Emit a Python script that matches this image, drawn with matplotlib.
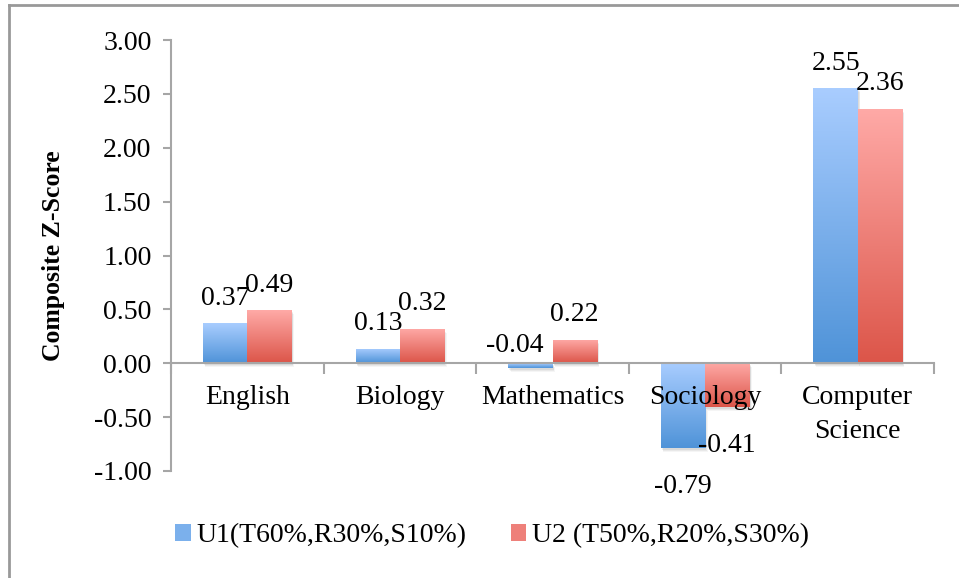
import numpy as np
import matplotlib
matplotlib.use("Agg")
import matplotlib.pyplot as plt
from matplotlib.patches import Rectangle
from matplotlib.colors import LinearSegmentedColormap
import matplotlib.transforms as mtransforms
from matplotlib.lines import Line2D

categories = ["English", "Biology", "Mathematics", "Sociology", "Computer\nScience"]
u1_values = [0.37, 0.13, -0.04, -0.79, 2.55]
u2_values = [0.49, 0.32, 0.22, -0.41, 2.36]
series_names = ["U1(T60%,R30%,S10%)", "U2 (T50%,R20%,S30%)"]
y_ticks = [-1.0, -0.5, 0.0, 0.5, 1.0, 1.5, 2.0, 2.5, 3.0]

plt.rcParams['font.family'] = ['Liberation Serif', 'DejaVu Serif']
FS = 20

blue_top, blue_bot = "#a9cdff", "#4f93d8"
red_top, red_bot = "#ffaaa7", "#dc5549"

W, H = 959, 578
fig = plt.figure(figsize=(W / 100, H / 100), dpi=100)
ax = fig.add_axes([171 / W, 1 - 471 / H, (934 - 171) / W, (471 - 40) / H])
ax.set_xlim(-0.5, 4.5)
ax.set_ylim(-1.0, 3.0)

bar_w = 0.29
x = np.arange(len(categories))


def grad_bar(xc, val, top, bot, z):
    x0, x1 = xc - bar_w / 2, xc + bar_w / 2
    y0, y1 = min(0, val), max(0, val)
    # soft drop shadow
    for k, a in [(4, 0.04), (3, 0.05), (2, 0.06)]:
        tr = mtransforms.offset_copy(ax.transData, fig=fig, x=k * 0.72 * 0.6, y=-k * 0.72, units='points')
        ax.add_patch(Rectangle((x0, y0), x1 - x0, y1 - y0, transform=tr,
                               facecolor='black', alpha=a, edgecolor='none', zorder=z - 0.5))
    cmap = LinearSegmentedColormap.from_list('g', [bot, top])
    grad = np.linspace(0, 1, 256).reshape(-1, 1)
    im = ax.imshow(grad, cmap=cmap, extent=(x0, x1, y0, y1), origin='lower',
                   aspect='auto', zorder=z, interpolation='bilinear')
    rect = Rectangle((x0, y0), x1 - x0, y1 - y0, transform=ax.transData,
                     facecolor='none', edgecolor='none')
    ax.add_patch(rect)
    im.set_clip_path(rect)


def label(xc, val):
    txt = f"{val:.2f}"
    if val >= 0:
        ax.annotate(txt, (xc, val), xytext=(0, 13.5), textcoords='offset points',
                    ha='center', va='baseline', fontsize=FS, zorder=10)
    elif abs(val) < 0.1:
        # tiny negative bar: label sits above the axis, nudged left
        ax.annotate(txt, (xc, 0), xytext=(-11, 8), textcoords='offset points',
                    ha='center', va='baseline', fontsize=FS, zorder=10)
    else:
        ax.annotate(txt, (xc, val), xytext=(0, -18.5), textcoords='offset points',
                    ha='center', va='top', fontsize=FS, zorder=10)


for i in range(len(categories)):
    grad_bar(x[i] - bar_w / 2, u1_values[i], blue_top, blue_bot, 1)
    grad_bar(x[i] + bar_w / 2, u2_values[i], red_top, red_bot, 1)
for i in range(len(categories)):
    label(x[i] - bar_w / 2, u1_values[i])
    label(x[i] + bar_w / 2, u2_values[i])

axis_grey = "#a6a6a6"
for s in ['top', 'right']:
    ax.spines[s].set_visible(False)
ax.spines['left'].set_color(axis_grey)
ax.spines['left'].set_linewidth(1.5)
ax.spines['bottom'].set_position(('data', 0))
ax.spines['bottom'].set_color(axis_grey)
ax.spines['bottom'].set_linewidth(1.5)

ax.set_yticks(y_ticks)
ax.set_yticklabels([f"{v:.2f}" for v in y_ticks], fontsize=FS)
ax.tick_params(axis='y', direction='out', length=6, width=1.5, color=axis_grey, pad=8)

ax.set_xticks(np.arange(-0.5, 4.6, 1.0))
ax.set_xticklabels([])
ax.tick_params(axis='x', which='major', direction='out', length=8, width=1.5, color=axis_grey)
ax.set_xticks(x, minor=True)
ax.set_xticklabels(categories, minor=True, fontsize=FS, linespacing=1.45)
ax.tick_params(axis='x', which='minor', length=0, pad=16)

ax.set_ylabel("Composite Z-Score", fontsize=18.5, fontweight='bold')
ax.yaxis.set_label_coords(65 / W, 1 - 256 / H, transform=fig.transFigure)

handles = [Rectangle((0, 0), 1, 1, facecolor="#7bb0ec", edgecolor='none'),
           Rectangle((0, 0), 1, 1, facecolor="#ee807a", edgecolor='none')]
fig.legend(handles, series_names, loc='center', bbox_to_anchor=(492 / W, 1 - 536 / H),
           ncol=2, frameon=False, fontsize=FS, handlelength=0.55, handleheight=0.55,
           handletextpad=0.2, columnspacing=1.6)

# outer frame (left and top edges visible)
fig.add_artist(Line2D([9 / W, 9 / W], [0, 1 - 5 / H], transform=fig.transFigure,
                      color="#999999", linewidth=2))
fig.add_artist(Line2D([9 / W, 1], [1 - 5 / H, 1 - 5 / H], transform=fig.transFigure,
                      color="#999999", linewidth=2))

fig.savefig("out.png", dpi=100)
